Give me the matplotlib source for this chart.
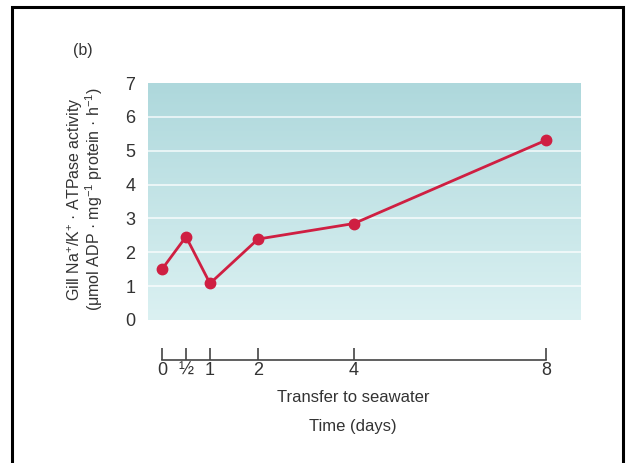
import matplotlib
matplotlib.use("Agg")
import matplotlib.pyplot as plt
import numpy as np
from matplotlib.patches import Rectangle

days = [0, 0.5, 1, 2, 4, 8]
activity = [1.50, 2.46, 1.08, 2.39, 2.85, 5.31]
tick_days = [0, 0.5, 1, 2, 4, 8]
tick_labels = ["0", "\u00bd", "1", "2", "4", "8"]
y_ticks = [0, 1, 2, 3, 4, 5, 6, 7]

plt.rcParams["font.family"] = ["Liberation Sans", "DejaVu Sans"]
plt.rcParams["mathtext.fontset"] = "custom"
plt.rcParams["mathtext.rm"] = "Liberation Sans"
plt.rcParams["mathtext.default"] = "regular"

W, H = 630, 463
fig = plt.figure(figsize=(W / 100, H / 100), dpi=100)


def px_box(x0, y0, x1, y1):
    return [x0 / W, 1 - y1 / H, (x1 - x0) / W, (y1 - y0) / H]


ax = fig.add_axes(px_box(148, 83, 581, 320))
ax.set_xlim(-14 / 48, 8 + 35 / 48)
ax.set_ylim(0, 7)

# teal gradient background
top = np.array([174, 216, 220]) / 255
bottom = np.array([219, 241, 242]) / 255
t = np.linspace(0, 1, 256)[:, None]
grad = (top * (1 - t) + bottom * t)[:, None, :].repeat(2, axis=1)
ax.imshow(grad, extent=[0, 1, 0, 1], transform=ax.transAxes, aspect="auto", zorder=0)

for y in y_ticks[1:-1]:
    ax.axhline(y, color="white", linewidth=1.2, alpha=0.8, zorder=1)

ax.plot(days, activity, color="#cf1f42", linewidth=2.0, marker="o",
        markersize=7.5, markeredgecolor="#cf1f42", zorder=3, clip_on=False)

for side in ["top", "right", "left"]:
    ax.spines[side].set_visible(False)
ax.spines["bottom"].set_position(("outward", 29))
ax.spines["bottom"].set_bounds(0, 8)
ax.spines["bottom"].set_color("#444444")
ax.spines["bottom"].set_linewidth(1.2)

ax.set_xticks(tick_days)
ax.set_xticklabels(tick_labels)
ax.tick_params(axis="x", direction="in", length=9, width=1.2, color="#444444",
               labelsize=13, labelcolor="#333333", pad=1)
ax.set_yticks(y_ticks)
ax.tick_params(axis="y", length=0, labelsize=13, labelcolor="#333333", pad=9)

fig.text(83 / W, 1 - 50 / H, "(b)", ha="center", va="center", fontsize=11.5, color="#333333")
fig.text(75 / W, 1 - 199 / H, "Gill Na$^{+}$/K$^{+}$ \u00b7 ATPase activity",
         rotation=90, ha="center", va="center", fontsize=11.5, color="#333333")
fig.text(94 / W, 1 - 199 / H, "(\u03bcmol ADP \u00b7 mg$^{-1}$ protein \u00b7 h$^{-1}$)",
         rotation=90, ha="center", va="center", fontsize=11.5, color="#333333")
fig.text(353 / W, 1 - 397 / H, "Transfer to seawater", ha="center", va="center",
         fontsize=12, color="#333333")
fig.text(353 / W, 1 - 427 / H, "Time (days)", ha="center", va="center",
         fontsize=12, color="#333333")

fig.patches.append(Rectangle((12 / W, -0.02), (623 - 12) / W, 1.02 - 7 / H,
                             transform=fig.transFigure, fill=False,
                             edgecolor="black", linewidth=2.2))

fig.savefig("out.png", dpi=100)
